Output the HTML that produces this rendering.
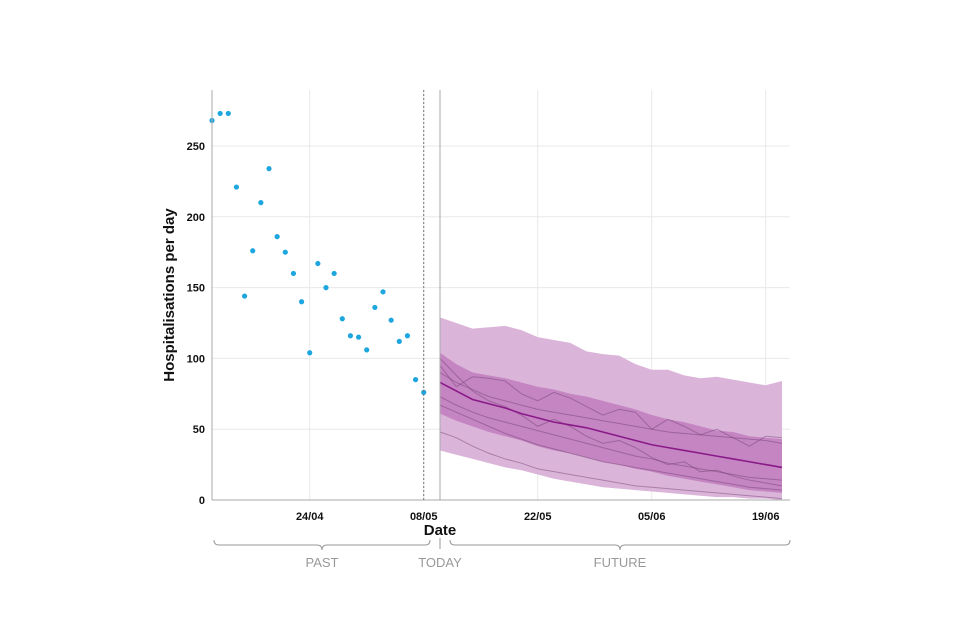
<!DOCTYPE html>
<html><head><meta charset="utf-8">
<style>
html,body{margin:0;padding:0;background:#fff;}
svg{display:block;font-family:"Liberation Sans",sans-serif;}
</style></head>
<body>
<svg id="chart" width="960" height="640" viewBox="0 0 960 640">
<g id="grid"></g>
<g id="bands"></g>
<g id="traj"></g>
<g id="points"></g>
<g id="axes"></g>
<text x="0" y="0" transform="translate(174,295) rotate(-90)" text-anchor="middle" font-size="15" font-weight="bold" fill="#111">Hospitalisations per day</text>
<text x="440" y="535" text-anchor="middle" font-size="15" font-weight="bold" fill="#111">Date</text>
<path d="M214,540 Q214,545 219,545 L317,545 Q322,545 322,550 Q322,545 327,545 L425,545 Q430,545 430,540" fill="none" stroke="#999" stroke-width="1"/>
<line x1="440" y1="538" x2="440" y2="549" stroke="#999"/>
<path d="M450,540 Q450,545 455,545 L615,545 Q620,545 620,550 Q620,545 625,545 L785,545 Q790,545 790,540" fill="none" stroke="#999" stroke-width="1"/>
<text x="322" y="567" text-anchor="middle" font-size="13" fill="#999">PAST</text>
<text x="440" y="567" text-anchor="middle" font-size="13" fill="#999">TODAY</text>
<text x="620" y="567" text-anchor="middle" font-size="13" fill="#999">FUTURE</text>
</svg>
<script>
const obsValues=[268,273,273,221,144,176,210,234,186,175,160,140,104,167,150,160,128,116,115,106,136,147,127,112,116,85,76];
const fcDays=[28,30,32,34,36,38,40,42,44,46,48,50,52,54,56,58,60,62,64,66,68,70];
const upper95=[129,125,121,122,123,120,115,113,111,105,103,102,96,92,92,88,86,87,85,83,81,84];
const upper50=[104,96,90,88,86,83,80,78,75,73,70,67,64,60,57,55,52,49,48,45,44,43];
const lower50=[61,56,52,48,45,42,38,35,33,30,27,25,22,20,17,15,13,11,9,7,6,5];
const lower95=[35,32,29,26,23,21,18,15,13,11,9,8,7,6,5,4,3,2,2,1,1,0];
const median=[83,77,71,68,65,61,58,55,53,51,48,45,42,39,37,35,33,31,29,27,25,23];
const traj1=[95,80,87,86,84,75,70,76,72,66,60,64,62,50,57,52,46,50,44,38,45,44];
const traj2=[90,83,78,73,70,67,64,62,60,58,56,54,52,50,48,47,46,45,44,43,42,40];
const traj3=[73,67,62,58,55,52,49,46,43,40,37,34,31,29,26,24,22,20,18,16,15,14];
const traj4=[67,62,57,52,47,43,39,36,33,30,27,25,23,21,19,17,15,13,11,9,8,7];
const traj5=[48,44,38,33,29,26,22,20,18,16,14,12,10,9,8,7,6,5,4,3,2,1];
const traj6=[100,88,77,70,66,60,52,57,52,45,40,42,37,30,25,27,20,21,17,14,12,10];
const yTicks=[0,50,100,150,200,250];
const xTickDays=[12,26,40,54,68];
const xTickLabels=["24/04","08/05","22/05","05/06","19/06"];
const todayDay=28, lastObsDay=26;

const NS="http://www.w3.org/2000/svg";
const X0=212, PX_DAY=114/14, Y0=500, PX_UNIT=354/250;
const xs=d=>X0+d*PX_DAY, ys=v=>Y0-v*PX_UNIT;
function mk(tag,attrs,parent){const e=document.createElementNS(NS,tag);for(const k in attrs)e.setAttribute(k,attrs[k]);parent.appendChild(e);return e;}
const grid=document.getElementById('grid'),bands=document.getElementById('bands'),traj=document.getElementById('traj'),pts=document.getElementById('points'),axes=document.getElementById('axes');

yTicks.forEach(v=>{
  if(v>0){const l=mk('line',{x1:212,x2:790,y1:ys(v),y2:ys(v),stroke:'#e8e8e8'},grid);
  
  }
  const t=mk('text',{x:205,y:ys(v)+4,'text-anchor':'end','font-size':11,'font-weight':'bold',fill:'#111'},axes);
  t.textContent=v;
  
  
});
xTickDays.forEach((d,i)=>{
  const l=mk('line',{x1:xs(d),x2:xs(d),y1:90,y2:500,stroke:'#e8e8e8'},grid);
  
  
  const t=mk('text',{x:xs(d),y:520,'text-anchor':'middle','font-size':11,'font-weight':'bold',fill:'#111'},axes);
  t.textContent=xTickLabels[i];
  
  
});
function area(up,lo,fill,name){
  let d='M'+fcDays.map((dd,i)=>xs(dd)+','+ys(up[i])).join('L');
  for(let i=fcDays.length-1;i>=0;i--)d+='L'+xs(fcDays[i])+','+ys(lo[i]);
  const p=mk('path',{d:d+'Z',fill:fill},bands);
  
  
}
area(upper95,lower95,'#dbb5d9','band-95');
area(upper50,lower50,'#c485c2','band-50');
function line(vals,stroke,w,name,parent){
  const p=mk('path',{d:'M'+fcDays.map((dd,i)=>xs(dd)+','+ys(vals[i])).join('L'),fill:'none',stroke:stroke,'stroke-width':w},parent);
  
  
}
[traj1,traj2,traj3,traj4,traj5,traj6].forEach(t=>line(t,'rgba(110,60,110,0.45)',1,'trajectory-line',traj));
line(median,'#8b1a89',1.6,'median-line',traj);
obsValues.forEach((v,i)=>{
  const c=mk('circle',{cx:xs(i),cy:ys(v),r:2.6,fill:'#1ea6df'},pts);
  
  
});
let a=mk('line',{x1:212,x2:212,y1:90,y2:500,stroke:'#aaa'},axes);


a=mk('line',{x1:212,x2:790,y1:500,y2:500,stroke:'#aaa'},axes);


a=mk('line',{x1:xs(lastObsDay),x2:xs(lastObsDay),y1:90,y2:500,stroke:'#777','stroke-dasharray':'2,2'},axes);


a=mk('line',{x1:xs(todayDay),x2:xs(todayDay),y1:90,y2:500,stroke:'#aaa'},axes);


</script>
</body></html>
